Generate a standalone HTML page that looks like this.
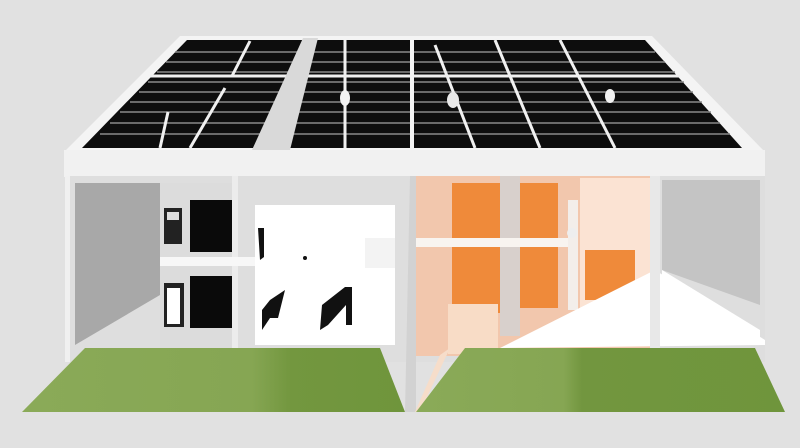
<!DOCTYPE html>
<html><head><meta charset="utf-8"><style>html,body{margin:0;padding:0;background:#e1e1e1;}svg{display:block}</style></head>
<body>
<svg width="800" height="448" viewBox="0 0 800 448" xmlns="http://www.w3.org/2000/svg">
<defs>
<linearGradient id="gl" x1="0" x2="1"><stop offset="0" stop-color="#8aaa58"/><stop offset="0.6" stop-color="#86a653"/><stop offset="0.7" stop-color="#73973f"/><stop offset="1" stop-color="#6f953c"/></linearGradient>
<linearGradient id="gr" x1="0" x2="1"><stop offset="0" stop-color="#8aaa58"/><stop offset="0.4" stop-color="#86a653"/><stop offset="0.45" stop-color="#72963f"/><stop offset="1" stop-color="#6f953c"/></linearGradient>
</defs>
<rect width="800" height="448" fill="#e1e1e1"/>
<!-- roof -->
<polygon points="180,36 652,36 765,152 64,152" fill="#f4f4f4"/>
<polygon points="187,40 645,40 742,148 82,148" fill="#0d0d0d"/>
<g stroke="#8a8a8a" stroke-width="1.5">
<line x1="175" y1="52" x2="655" y2="52"/><line x1="166" y1="62" x2="665" y2="62"/>
<line x1="157" y1="72" x2="675" y2="72"/><line x1="148" y1="82" x2="684" y2="82"/>
<line x1="139" y1="92" x2="693" y2="92"/><line x1="130" y1="102" x2="702" y2="102"/>
<line x1="120" y1="112" x2="711" y2="112"/><line x1="110" y1="123" x2="720" y2="123"/>
<line x1="100" y1="134" x2="730" y2="134"/>
</g>
<g stroke="#f0f0f0" stroke-width="3">
<line x1="150" y1="76" x2="680" y2="76"/>
<line x1="250" y1="41" x2="232" y2="76"/><line x1="225" y1="88" x2="190" y2="148"/>
<line x1="168" y1="112" x2="160" y2="148"/>
<line x1="345" y1="40" x2="345" y2="148"/>
<line x1="435" y1="45" x2="475" y2="148"/>
<line x1="495" y1="40" x2="540" y2="148"/><line x1="560" y1="40" x2="615" y2="148"/>
</g>
<polygon points="303,38 318,38 290,150 252,150" fill="#d9d9d9"/>
<rect x="410" y="38" width="4" height="112" fill="#f4f4f4"/>
<ellipse cx="345" cy="98" rx="5" ry="8" fill="#f2f2f2"/>
<ellipse cx="453" cy="100" rx="6" ry="8" fill="#e8e8e8"/>
<ellipse cx="610" cy="96" rx="5" ry="7" fill="#f2f2f2"/>
<rect x="64" y="150" width="701" height="27" fill="#f1f1f1"/>
<!-- walls -->
<rect x="65" y="176" width="700" height="186" fill="#dedede"/>
<rect x="65" y="176" width="5" height="186" fill="#f0f0f0"/>
<polygon points="75,183 160,183 160,295 75,345" fill="#a8a8a8"/>
<rect x="160" y="183" width="75" height="165" fill="#dcdcdc"/>
<rect x="232" y="176" width="6" height="172" fill="#ececec"/>
<rect x="164" y="208" width="18" height="36" fill="#222"/><rect x="167" y="212" width="12" height="8" fill="#ddd"/>
<rect x="190" y="200" width="42" height="52" fill="#0a0a0a"/>
<rect x="164" y="283" width="20" height="44" fill="#222"/><rect x="167" y="288" width="13" height="36" fill="#fff"/>
<rect x="190" y="276" width="42" height="52" fill="#0a0a0a"/>
<rect x="160" y="257" width="205" height="9" fill="#f7f7f7"/>
<rect x="255" y="205" width="140" height="140" fill="#fff"/>
<rect x="365" y="238" width="30" height="30" fill="#f3f3f3"/>
<polygon points="258,228 264,228 264,257 260,260" fill="#111"/>
<polygon points="262,310 270,300 285,290 278,318 270,318 262,330" fill="#111"/>
<polygon points="320,330 322,305 345,287 352,287 352,325 346,325 346,305 328,325" fill="#111"/>
<circle cx="305" cy="258" r="2" fill="#111"/>
<!-- right orange room -->
<rect x="413" y="176" width="240" height="180" fill="#f2c7ad"/>
<polygon points="580,178 653,178 653,300 580,330" fill="#fbe3d3"/>
<rect x="452" y="183" width="48" height="130" fill="#ef8a3a"/>
<rect x="520" y="183" width="38" height="125" fill="#ef8a3a"/>
<rect x="585" y="250" width="50" height="50" fill="#ef8a3a"/>
<rect x="500" y="176" width="20" height="160" fill="#d8d0cc"/>
<rect x="413" y="238" width="160" height="9" fill="#f8f4f0"/>
<rect x="568" y="200" width="10" height="110" fill="#f3eeea"/>
<circle cx="572" cy="233" r="5" fill="#eee"/>
<rect x="448" y="304" width="50" height="50" fill="#f8dcc6"/>
<polygon points="500,348 655,270 765,340 765,345" fill="#fff"/>
<rect x="650" y="176" width="10" height="180" fill="#e8e8e8"/>
<polygon points="662,180 760,180 760,305 662,270" fill="#c4c4c4"/>
<polygon points="662,270 760,330 760,343 662,343" fill="#fff"/>
<polygon points="410,176 416,176 416,412 405,412" fill="#d2d2d2"/>
<polygon points="415,412 440,355 450,348 420,412" fill="#f6ddca"/>
<!-- grass -->
<polygon points="85,348 380,348 405,412 22,412" fill="url(#gl)"/>
<polygon points="465,348 755,348 785,412 416,412" fill="url(#gr)"/>
</svg>
</body></html>
